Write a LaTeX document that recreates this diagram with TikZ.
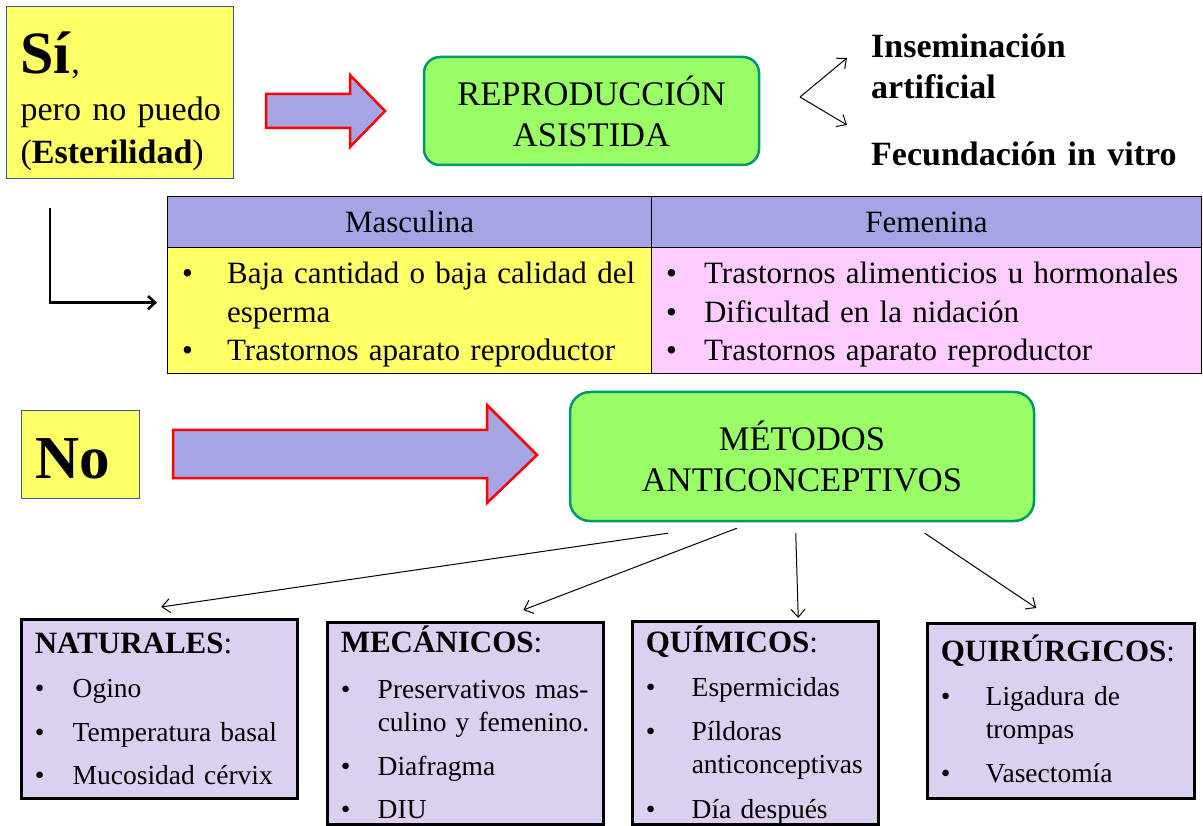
\documentclass[tikz,border=0pt]{standalone}
\usepackage{fontspec}
\setmainfont{Liberation Serif}
\usetikzlibrary{arrows.meta,positioning}
\definecolor{ink}{HTML}{000000}
\definecolor{notefill}{HTML}{FFFF66}
\definecolor{noteline}{HTML}{3A5A87}
\definecolor{lavfill}{HTML}{A5A5E6}
\definecolor{pinkfill}{HTML}{FFCCFF}
\definecolor{goalfill}{HTML}{99FF66}
\definecolor{goalline}{HTML}{00966E}
\definecolor{kindfill}{HTML}{DCD0F0}
\definecolor{arrowline}{HTML}{FF0000}
\newcommand{\kindtitle}[1]{{\fontsize{31}{33}\selectfont\textbf{#1}:}}
\tikzset{
  note/.style={draw=noteline, fill=notefill, line width=1.2pt, anchor=north west, align=left, inner xsep=14pt, inner ysep=0pt, font=\fontsize{34}{43}\selectfont},
  goal/.style={draw=goalline, fill=goalfill, line width=2.5pt, rounded corners=16pt, align=center, font=\fontsize{34.5}{41}\selectfont},
  head/.style={draw=ink, fill=lavfill, line width=1.2pt, anchor=north west, inner sep=0pt, minimum height=51pt, font=\fontsize{31}{38}\selectfont},
  cell/.style={draw=ink, line width=1.2pt, anchor=north west, inner xsep=14.5pt, inner ysep=0pt, text height=36.2pt, text depth=89.8pt, align=left, font=\fontsize{31}{38.5}\selectfont},
  kind/.style={draw=ink, fill=kindfill, line width=2.5pt, anchor=north west, inner xsep=13.5pt, inner ysep=0pt, align=left, font=\fontsize{27.5}{33}\selectfont},
  pick/.style={anchor=base west, inner sep=0pt, text width=320pt, align=left, font=\fontsize{34}{41}\selectfont\bfseries},
  bigarrow/.style={draw=arrowline, fill=lavfill, line width=2.5pt, line join=miter},
  link/.style={-{Straight Barb[length=8pt,width=14pt]}, line width=1pt, draw=ink},
  elbow/.style={-{Straight Barb[length=7pt,width=13pt]}, line width=2.6pt, draw=ink}
}

\begin{document}
\begin{tikzpicture}[x=1pt, y=-1pt]
  \useasboundingbox (0,0) rectangle (1203,826);

  \node[note, text width=199pt, text height=67pt, text depth=105pt] (si) at (6,6)
    {\mbox{\fontsize{60}{60}\selectfont\textbf{Sí}},\\[4pt]\mbox{pero no puedo}\\\mbox{(\textbf{Esterilidad})}};
  \draw[bigarrow] (266,94) -- (350,94) -- (350,75) -- (385,111) -- (350,147) -- (350,128) -- (266,128) -- cycle;
  \node[goal, minimum width=335pt, minimum height=108pt] (asist) at (591.5,111) {REPRODUCCIÓN\\ASISTIDA};

  \node[pick] (insem) at (871,58) {Inseminación\\artificial};
  \node[pick] (fiv) at (871,166) {Fecundación in vitro};
  \coordinate (fork) at (800,97);
  \draw[link] (fork) -- ([xshift=-24pt]insem.base west);
  \draw[link] (fork) -- ([shift={(-24,-41)}]fiv.base west);

  \node[head, minimum width=484pt] (mhead) at (167,196) {Masculina};
  \node[head, minimum width=550pt] (fhead) at (651,196) {Femenina};
  \node[cell, fill=notefill, text width=455pt] (mbody) at (167,247) {\begin{tabular}[t]{@{}p{45pt}@{}l@{}}
    \textbullet & Baja cantidad o baja calidad del\\
    & esperma\\
    \textbullet & Trastornos aparato reproductor
  \end{tabular}};
  \node[cell, fill=pinkfill, text width=521pt] (fbody) at (651,247) {\begin{tabular}[t]{@{}p{38pt}@{}l@{}}
    \textbullet & Trastornos alimenticios u hormonales\\
    \textbullet & Dificultad en la nidación\\
    \textbullet & Trastornos aparato reproductor
  \end{tabular}};
  \draw[elbow] ([shift={(44,29)}]si.south west) |- ([shift={(-10,-8)}]mbody.west);

  \node[note, text width=90pt, text height=68pt, text depth=20pt, font=\fontsize{61}{61}\selectfont\bfseries] (no) at (21,410) {No};
  \draw[bigarrow] (173,430) -- (487,430) -- (487,405) -- (537,455) -- (487,503) -- (487,478) -- (173,478) -- cycle;
  \node[goal, minimum width=464pt, minimum height=129pt, rounded corners=20pt] (met) at (802,456.5) {MÉTODOS\\ANTICONCEPTIVOS};

  \node[kind, text width=249pt, text height=34.3pt, text depth=144.7pt] (nat) at (20,618) {\begin{tabular}[t]{@{}p{38pt}@{}l@{}}
    \multicolumn{2}{@{}l@{}}{\kindtitle{NATURALES}}\\[11pt]
    \textbullet & Ogino\\[10.5pt]
    \textbullet & Temperatura basal\\[10.5pt]
    \textbullet & Mucosidad cérvix
  \end{tabular}};
  \node[kind, text width=249pt, text height=30.3pt, text depth=171.7pt] (mec) at (326,621) {\begin{tabular}[t]{@{}p{37pt}@{}l@{}}
    \multicolumn{2}{@{}l@{}}{\kindtitle{MECÁNICOS}}\\[12.5pt]
    \textbullet & Preservativos mas-\\
    & culino y femenino.\\[11pt]
    \textbullet & Diafragma\\[10.5pt]
    \textbullet & DIU
  \end{tabular}};
  \node[kind, text width=219pt, text height=31.3pt, text depth=171.7pt] (quim) at (631,620) {\begin{tabular}[t]{@{}p{46pt}@{}l@{}}
    \multicolumn{2}{@{}l@{}}{\kindtitle{QUÍMICOS}}\\[11pt]
    \textbullet & Espermicidas\\[10.5pt]
    \textbullet & Píldoras\\
    & anticonceptivas\\[12pt]
    \textbullet & Día después
  \end{tabular}};
  \node[kind, text width=240pt, text height=38.3pt, text depth=136.7pt] (quir) at (926,622) {\begin{tabular}[t]{@{}p{45pt}@{}l@{}}
    \multicolumn{2}{@{}l@{}}{\kindtitle{QUIRÚRGICOS}}\\[11pt]
    \textbullet & Ligadura de\\
    & trompas\\[10.5pt]
    \textbullet & Vasectomía
  \end{tabular}};

  \draw[link] ([shift={(99,11)}]met.south west) -- ([shift={(2,-11)}]nat.north);
  \draw[link] ([shift={(168,6)}]met.south west) -- ([shift={(58,-11)}]mec.north);
  \draw[link] ([shift={(227,11)}]met.south west) -- ([shift={(43,-2)}]quim.north);
  \draw[link] ([shift={(356,11)}]met.south west) -- ([shift={(-24.5,-14)}]quir.north);
\end{tikzpicture}
\end{document}
